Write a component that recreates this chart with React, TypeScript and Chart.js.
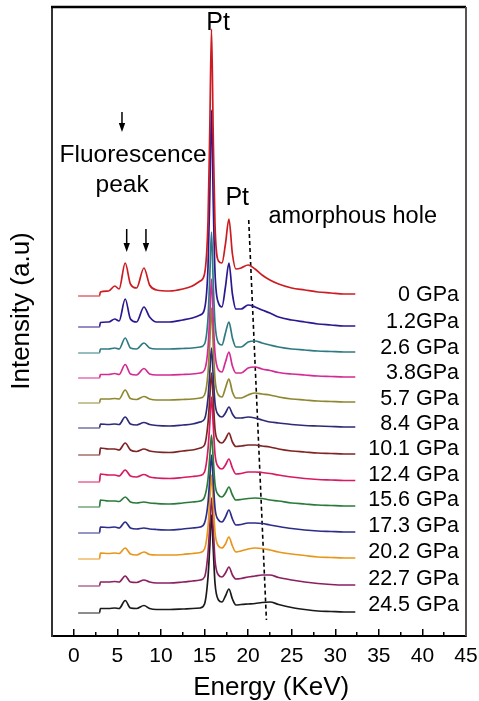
import { useEffect, useRef } from 'react';
import { Chart, registerables } from 'chart.js';

Chart.register(...registerables);

// Energy grid (keV) shared by all spectra
const ENERGY = [0.5, 2.95, 3.05, 4.0, 4.7, 5.2, 5.9, 6.5, 7.2, 8.05, 8.7, 9.5, 11.0, 12.5, 13.6, 14.5, 15.0, 15.4, 15.6, 15.8, 16.0, 16.2, 16.6, 17.0, 17.4, 17.8, 18.2, 18.6, 19.2, 20.0, 20.8, 21.6, 22.5, 23.5, 25, 26.5, 28, 29.5, 31, 32.3];

const PRESSURES = ['0 GPa', '1.2GPa', '2.6 GPa', '3.8GPa', '5.7 GPa', '8.4 GPa', '10.1 GPa', '12.4 GPa', '15.6 GPa', '17.3 GPa', '20.2 GPa', '22.7 GPa', '24.5 GPa'];

// vertical stacking offset of each spectrum (a.u.)
const OFFSETS = [340, 309, 283, 258, 233, 208, 181, 154, 129, 103, 77, 50, 23];
// vertical position of each pressure label (a.u.)
const LABEL_Y = [341, 314, 288, 263, 237, 212, 187, 161, 136, 110, 84, 57, 31];

// intensities above offset, one value per ENERGY point
const I_0 = [0, 0, 4, 5, 10, 7, 33, 12, 8, 28, 11, 6, 5, 7, 10, 15, 22, 75, 165, 267, 160, 72, 35, 33, 52, 77, 42, 27, 28, 31, 27, 21, 16, 12, 8, 6, 4, 3, 2, 2];
const I_1_2 = [0, 0, 4.5, 5, 8, 6, 28, 8, 5, 20, 10, 5, 5, 7, 9, 12, 18, 60, 130, 217, 125, 55, 24, 20, 40, 64, 33, 18, 18, 22, 20, 17, 14, 10, 7, 5, 3, 2, 1, 1];
const I_2_6 = [0, 0, 4, 4, 5, 4, 15, 5, 4, 10, 5, 4, 4, 4.5, 5, 6, 9, 35, 75, 121, 70, 30, 10, 8, 20, 31, 15, 6, 6, 11, 12, 10, 8, 6, 4, 3, 2, 1.5, 1, 1];
const I_3_8 = [0, 0, 3.5, 3.5, 4.5, 3.5, 13.5, 4, 3, 9.5, 4, 3, 3, 3.5, 4, 5, 8, 30, 62, 99, 58, 25, 8, 6, 16, 26, 12, 5, 5, 10, 11, 9, 7.5, 5.5, 4, 3, 2, 1.5, 1, 1];
const I_5_7 = [0, 0, 4, 4, 4.5, 4, 13, 4.5, 3.5, 6.5, 4, 3, 3, 3.5, 4, 5, 8, 30, 60, 95, 57, 24, 8, 6, 15, 24, 11, 5, 5, 8, 10, 9, 8, 6, 4, 3, 2, 1.5, 1, 1];
const I_8_4 = [0, 0, 4, 3.5, 4, 3.5, 11, 4, 3, 5.5, 3.5, 2.5, 2, 3, 4, 6, 9, 30, 55, 80, 52, 25, 13, 11, 15, 21, 14, 10, 10, 11, 10, 8, 6, 5, 3.5, 2.5, 2, 1.5, 1, 1];
const I_10_1 = [0, 0, 7, 6, 6, 5, 12, 5, 3.5, 6, 4, 3, 2.5, 4, 5, 7, 10, 32, 57, 82, 55, 26, 14, 12, 16, 22, 13, 8.5, 9, 10, 10, 9, 8, 6, 4, 3, 2, 1.5, 1, 1];
const I_12_4 = [0, 0, 8, 7, 7, 6, 12, 6, 5, 7.5, 5, 4, 3.5, 4.5, 5.5, 6.5, 10, 33, 58, 85, 57, 28, 15, 13, 17, 23, 14, 8, 8.5, 10, 10, 9.5, 8.5, 7, 5, 3.5, 2.5, 2, 1.5, 1.5];
const I_15_6 = [0, 0, 7, 6, 6, 5.5, 10, 5, 4, 5, 4, 3.5, 3, 4, 5, 6, 10, 28, 50, 72, 48, 23, 12, 10, 14, 20, 12, 7, 7.5, 8.5, 9, 8.5, 7, 6, 4, 3, 2, 1.5, 1, 1];
const I_17_3 = [0, 0, 6, 5.5, 6, 5, 11, 5, 4, 5, 4, 3.5, 3, 4, 5, 6, 10, 30, 54, 78, 52, 25, 13, 11, 16, 23, 14, 8, 8.5, 10, 10, 9.5, 8, 6.5, 4.5, 3, 2, 1.5, 1, 1];
const I_20_2 = [0, 0, 6, 5.5, 6, 5.5, 11, 5, 4, 7, 4.5, 4, 4, 4.5, 5.5, 6.5, 10, 32, 58, 84, 56, 27, 13, 11, 15, 22, 13, 7, 8, 10, 11, 10.5, 9, 7, 5, 3.5, 2, 1.5, 1, 1];
const I_22_7 = [0, 0, 4, 4, 4.5, 4, 10, 4, 3.5, 6, 4, 3, 3, 4, 5, 6, 9, 33, 60, 88, 58, 26, 11, 9, 13, 19, 11, 7, 7.5, 9, 10, 11, 11, 8.5, 6, 4, 2.5, 1.5, 1, 1];
const I_24_5 = [0, 0, 4.5, 4.5, 5, 4.5, 12.5, 5, 4.5, 7.5, 4.5, 3.5, 3.5, 4, 4.5, 5, 9, 36, 66, 98, 64, 30, 13, 11, 17, 24, 14, 8, 8.5, 9, 9.5, 10.5, 11, 8.5, 5.5, 3.5, 2, 1.5, 1, 1];

const SERIES = [I_0, I_1_2, I_2_6, I_3_8, I_5_7, I_8_4, I_10_1, I_12_4, I_15_6, I_17_3, I_20_2, I_22_7, I_24_5];

const COLORS = ['#cc1c22', '#2b1890', '#2f7a82', '#d42a94', '#8f8630', '#2d2a78', '#7e2424', '#d81a62', '#2a7a3c', '#2c2c8a', '#e8961a', '#8a2060', '#1a1a1a'];

// dashed guide of the amorphous hole
const HOLE_X = [20.07, 22.1];
const HOLE_Y = [416, 16];

const MAJOR_TICKS = [0, 5, 10, 15, 20, 25, 30, 35, 40, 45];
const MINOR_TICKS = [-2.5, 2.5, 7.5, 12.5, 17.5, 22.5, 27.5, 32.5, 37.5, 42.5];

const FONT = '"Liberation Sans", Arial, Helvetica, sans-serif';

const NOTES = [
  { text: 'Pt', x: 16.55, y: 613, size: 25 },
  { text: 'Pt', x: 18.75, y: 438, size: 25 },
  { text: 'Fluorescence', x: 6.8, y: 481, size: 24.5 },
  { text: 'peak', x: 5.55, y: 451, size: 24.5 },
  { text: 'amorphous hole', x: 32.0, y: 419, size: 23.5 },
];
const ARROWS = [
  { x: 5.53, top: 524, tip: 504 },
  { x: 6.07, top: 407, tip: 384 },
  { x: 8.28, top: 407, tip: 384 },
];

const annotPlugin = {
  id: 'annot',
  afterDraw(chart: any) {
    const { ctx, chartArea } = chart;
    const xs = chart.scales.x;
    const ys = chart.scales.y;
    ctx.save();
    // top and right frame
    ctx.strokeStyle = '#000';
    ctx.lineWidth = 2.5;
    ctx.beginPath();
    ctx.moveTo(chartArea.left - 1, chartArea.top);
    ctx.lineTo(chartArea.right, chartArea.top);
    ctx.stroke();
    ctx.strokeStyle = '#555';
    ctx.lineWidth = 2;
    ctx.beginPath();
    ctx.moveTo(chartArea.right, chartArea.top);
    ctx.lineTo(chartArea.right, chartArea.bottom);
    ctx.stroke();

    ctx.fillStyle = '#000';
    ctx.textBaseline = 'middle';
    ctx.textAlign = 'center';
    NOTES.forEach((n) => {
      ctx.font = `${n.size}px ${FONT}`;
      ctx.fillText(n.text, xs.getPixelForValue(n.x), ys.getPixelForValue(n.y));
    });

    // arrows
    ctx.strokeStyle = '#000';
    ctx.lineWidth = 1.5;
    ARROWS.forEach((a) => {
      const px = xs.getPixelForValue(a.x);
      const pt = ys.getPixelForValue(a.top);
      const pb = ys.getPixelForValue(a.tip);
      ctx.beginPath();
      ctx.moveTo(px, pt);
      ctx.lineTo(px, pb - 6);
      ctx.stroke();
      ctx.beginPath();
      ctx.moveTo(px - 3.2, pb - 9);
      ctx.lineTo(px + 3.2, pb - 9);
      ctx.lineTo(px, pb);
      ctx.closePath();
      ctx.fill();
    });

    // pressure labels
    ctx.font = `21.5px ${FONT}`;
    ctx.textAlign = 'right';
    PRESSURES.forEach((p, i) => {
      ctx.fillText(p, xs.getPixelForValue(44.2), ys.getPixelForValue(LABEL_Y[i]));
    });

    // axis titles
    ctx.textAlign = 'center';
    ctx.font = `26px ${FONT}`;
    ctx.fillText('Energy (KeV)', xs.getPixelForValue(22.65), chartArea.bottom + 52);
    ctx.translate(22, ys.getPixelForValue(325));
    ctx.rotate(-Math.PI / 2);
    ctx.fillText('Intensity (a.u)', 0, 0);
    ctx.restore();
  },
};

export default function App() {
  const ref = useRef<HTMLCanvasElement | null>(null);
  useEffect(() => {
    if (!ref.current) return;
    const datasets: any[] = SERIES.map((vals, i) => ({
      label: PRESSURES[i],
      data: ENERGY.map((e, k) => ({ x: e, y: OFFSETS[i] + vals[k] })),
      borderColor: COLORS[i],
      borderWidth: 1.7,
      pointRadius: 0,
      fill: false,
      cubicInterpolationMode: 'monotone',
      segment: { borderWidth: (c: any) => (c.p0DataIndex === 0 ? 1 : undefined) },
      xAxisID: 'x',
      yAxisID: 'y',
    }));
    datasets.push({
      label: 'hole',
      data: HOLE_X.map((x, k) => ({ x, y: HOLE_Y[k] })),
      borderColor: '#000',
      borderWidth: 1.6,
      borderDash: [4, 3],
      pointRadius: 0,
      fill: false,
      xAxisID: 'x',
      yAxisID: 'y',
    });
    const chart = new Chart(ref.current, {
      type: 'line',
      data: { datasets },
      plugins: [annotPlugin],
      options: {
        animation: false,
        responsive: false,
        devicePixelRatio: 1,
        events: [],
        layout: { padding: { top: 7, right: 13, left: 0, bottom: 0 } },
        plugins: { legend: { display: false }, tooltip: { enabled: false } },
        scales: {
          x: {
            type: 'linear',
            axis: 'x',
            position: 'bottom',
            weight: 1,
            min: -2.5,
            max: 45,
            afterBuildTicks: (s: any) => {
              s.ticks = MAJOR_TICKS.map((v) => ({ value: v }));
            },
            afterFit: (s: any) => {
              s.height = 65;
              s.paddingLeft = 0;
              s.paddingRight = 0;
            },
            border: { display: true, color: '#000', width: 2 },
            grid: { drawOnChartArea: false, drawTicks: true, tickLength: -7, color: '#000', lineWidth: 1.5 },
            ticks: {
              autoSkip: false,
              maxRotation: 0,
              padding: 15,
              color: '#000',
              font: { family: FONT, size: 21 },
            },
          },
          x2: {
            type: 'linear',
            axis: 'x',
            position: 'bottom',
            weight: 0,
            min: -2.5,
            max: 45,
            afterBuildTicks: (s: any) => {
              s.ticks = MINOR_TICKS.map((v) => ({ value: v }));
            },
            afterFit: (s: any) => {
              s.height = 0;
              s.paddingLeft = 0;
              s.paddingRight = 0;
            },
            border: { display: false },
            grid: { drawOnChartArea: false, drawTicks: true, tickLength: -4, color: '#000', lineWidth: 1.5 },
            ticks: { display: false },
          },
          y: {
            type: 'linear',
            position: 'left',
            min: 0,
            max: 629,
            afterFit: (s: any) => {
              s.width = 52;
            },
            border: { display: true, color: '#333', width: 2 },
            grid: { display: false },
            ticks: { display: false },
          },
        },
      } as any,
    });
    return () => chart.destroy();
  }, []);
  return (
    <div style={{ position: 'fixed', left: 0, top: 0, width: 479, height: 701, background: '#fff' }}>
      <canvas ref={ref} width={479} height={701} style={{ width: 479, height: 701, display: 'block' }} />
    </div>
  );
}
